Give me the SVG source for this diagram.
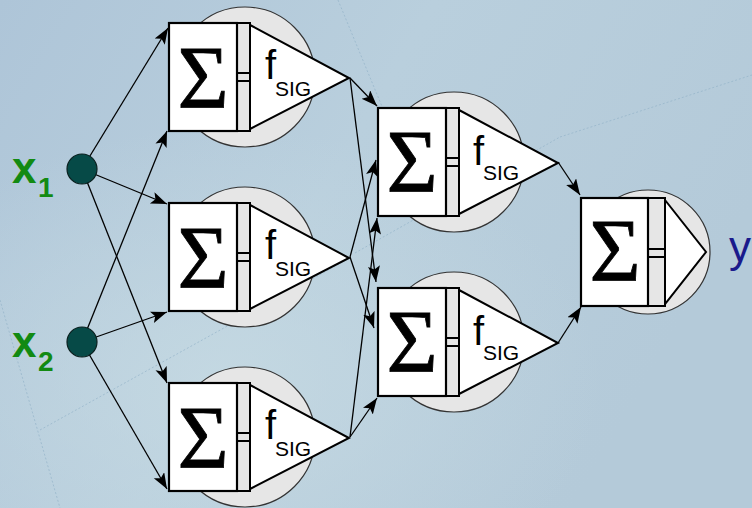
<svg xmlns="http://www.w3.org/2000/svg" width="752" height="508" viewBox="0 0 752 508">
  <defs>
    <linearGradient id="bg" x1="0" y1="0" x2="1" y2="0.4">
      <stop offset="0" stop-color="#aec5d8"/>
      <stop offset="0.5" stop-color="#b9cfdd"/>
      <stop offset="1" stop-color="#b4cad9"/>
    </linearGradient>
    <radialGradient id="glow" cx="0.3" cy="0.75" r="0.5">
      <stop offset="0" stop-color="#c6dae3" stop-opacity="0.8"/>
      <stop offset="1" stop-color="#c6dae3" stop-opacity="0"/>
    </radialGradient>
    <marker id="arrow" markerUnits="userSpaceOnUse" markerWidth="18" markerHeight="14" refX="16" refY="6" orient="auto">
      <path d="M0,0 L16,6 L0,12 L3.5,6 z" fill="#000"/>
    </marker>
    <style>
      .halo { fill: #e6e6e6; stroke: #333; stroke-width: 1.2; }
      .neck { fill: #e6e6e6; stroke: #000; stroke-width: 2; }
      .box { fill: #fff; stroke: #000; stroke-width: 2.2; }
      .act { fill: #fff; stroke: #000; stroke-width: 2; stroke-linejoin: miter; }
      .sigma { font-family: "Liberation Serif", "Times New Roman", serif; font-size: 88px; fill: #000; stroke: #000; stroke-width: 0.8; text-anchor: middle; }
      .fn { font-family: "Liberation Sans", Arial, sans-serif; font-size: 40px; fill: #000; }
      .sub { font-family: "Liberation Sans", Arial, sans-serif; font-size: 21px; fill: #000; }
      .wire { fill: none; stroke: #000; stroke-width: 1.3; marker-end: url(#arrow); }
      .input { fill: #064a47; stroke: #0a1f1e; stroke-width: 1.2; }
      .lbl { font-family: "Liberation Sans", Arial, sans-serif; font-weight: bold; fill: #128a12; }
      .out { font-family: "Liberation Sans", Arial, sans-serif; font-size: 44px; fill: #1a1a8c; }
      .texture { fill: none; stroke: #94b3c9; stroke-width: 1; stroke-dasharray: 2 2; opacity: 0.7; }
    </style>
  </defs>

  <!-- background -->
  <rect width="752" height="508" fill="url(#bg)"/>
  <rect width="752" height="508" fill="url(#glow)"/>
  <g id="texture">
    <line class="texture" x1="338" y1="0" x2="400" y2="150"/>
    <line class="texture" x1="355" y1="253" x2="560" y2="137"/>
    <line class="texture" x1="560" y1="137" x2="752" y2="75"/>
    <line class="texture" x1="40" y1="430" x2="350" y2="258"/>
    <line class="texture" x1="0" y1="300" x2="60" y2="508"/>
  </g>

  <!-- hidden layer 1 -->
  <g id="n1" transform="translate(169,23)">
    <circle class="halo" cx="76" cy="54" r="70"/>
    <rect class="neck" x="68" y="0" width="13" height="50"/>
    <rect class="neck" x="68" y="58" width="13" height="50"/>
    <path class="act" d="M81,2 L180,55 L81,106 z"/>
    <rect class="box" x="0" y="0" width="68" height="108"/>
    <text class="sigma" x="34" y="84">Σ</text>
    <text class="fn" x="96" y="56">f</text>
    <text class="sub" x="106" y="73">SIG</text>
  </g>
  <g id="n2" transform="translate(169,203)">
    <circle class="halo" cx="76" cy="54" r="70"/>
    <rect class="neck" x="68" y="0" width="13" height="50"/>
    <rect class="neck" x="68" y="58" width="13" height="50"/>
    <path class="act" d="M81,2 L180,55 L81,106 z"/>
    <rect class="box" x="0" y="0" width="68" height="108"/>
    <text class="sigma" x="34" y="84">Σ</text>
    <text class="fn" x="96" y="56">f</text>
    <text class="sub" x="106" y="73">SIG</text>
  </g>
  <g id="n3" transform="translate(169,383)">
    <circle class="halo" cx="76" cy="54" r="70"/>
    <rect class="neck" x="68" y="0" width="13" height="50"/>
    <rect class="neck" x="68" y="58" width="13" height="50"/>
    <path class="act" d="M81,2 L180,55 L81,106 z"/>
    <rect class="box" x="0" y="0" width="68" height="108"/>
    <text class="sigma" x="34" y="84">Σ</text>
    <text class="fn" x="96" y="56">f</text>
    <text class="sub" x="106" y="73">SIG</text>
  </g>

  <!-- hidden layer 2 -->
  <g id="n4" transform="translate(378,108)">
    <circle class="halo" cx="76" cy="54" r="70"/>
    <rect class="neck" x="68" y="0" width="13" height="50"/>
    <rect class="neck" x="68" y="58" width="13" height="50"/>
    <path class="act" d="M81,2 L180,55 L81,106 z"/>
    <rect class="box" x="0" y="0" width="68" height="108"/>
    <text class="sigma" x="34" y="83">Σ</text>
    <text class="fn" x="95" y="57">f</text>
    <text class="sub" x="105" y="72">SIG</text>
  </g>
  <g id="n5" transform="translate(378,288)">
    <circle class="halo" cx="76" cy="54" r="70"/>
    <rect class="neck" x="68" y="0" width="13" height="50"/>
    <rect class="neck" x="68" y="58" width="13" height="50"/>
    <path class="act" d="M81,2 L180,55 L81,106 z"/>
    <rect class="box" x="0" y="0" width="68" height="108"/>
    <text class="sigma" x="34" y="83">Σ</text>
    <text class="fn" x="95" y="57">f</text>
    <text class="sub" x="105" y="72">SIG</text>
  </g>

  <!-- output neuron -->
  <g id="n6" transform="translate(581,198)">
    <circle class="halo" cx="67" cy="54" r="62"/>
    <rect class="neck" x="67" y="0" width="17" height="51"/>
    <rect class="neck" x="67" y="59" width="17" height="49"/>
    <path class="act" d="M84,2 L125,54 L84,106 z"/>
    <rect class="box" x="0" y="0" width="67" height="108"/>
    <text class="sigma" x="34" y="82">Σ</text>
  </g>

  <!-- connectors -->
  <g id="connectors">
    <line class="wire" x1="82" y1="169" x2="168" y2="28"/>
    <line class="wire" x1="82" y1="169" x2="167" y2="204"/>
    <line class="wire" x1="82" y1="169" x2="167" y2="383"/>
    <line class="wire" x1="82" y1="342" x2="167" y2="131"/>
    <line class="wire" x1="82" y1="342" x2="167" y2="312"/>
    <line class="wire" x1="82" y1="342" x2="167" y2="489"/>

    <line class="wire" x1="350" y1="78" x2="377" y2="106"/>
    <line class="wire" x1="350" y1="78" x2="376" y2="282"/>
    <line class="wire" x1="350" y1="257" x2="376" y2="160"/>
    <line class="wire" x1="350" y1="257" x2="374" y2="328"/>
    <line class="wire" x1="350" y1="437" x2="377" y2="218"/>
    <line class="wire" x1="350" y1="437" x2="377" y2="398"/>

    <line class="wire" x1="558" y1="162" x2="580" y2="195"/>
    <line class="wire" x1="558" y1="343" x2="581" y2="307"/>
  </g>

  <!-- inputs -->
  <g id="x1">
    <circle class="input" cx="82" cy="169" r="15"/>
    <text class="lbl" x="12" y="183" font-size="44">x</text>
    <text class="lbl" x="38" y="197" font-size="28">1</text>
  </g>
  <g id="x2">
    <circle class="input" cx="82" cy="342" r="15"/>
    <text class="lbl" x="12" y="357" font-size="44">x</text>
    <text class="lbl" x="38" y="371" font-size="28">2</text>
  </g>

  <!-- output label -->
  <g id="y">
    <text class="out" x="729" y="262">y</text>
  </g>
</svg>
